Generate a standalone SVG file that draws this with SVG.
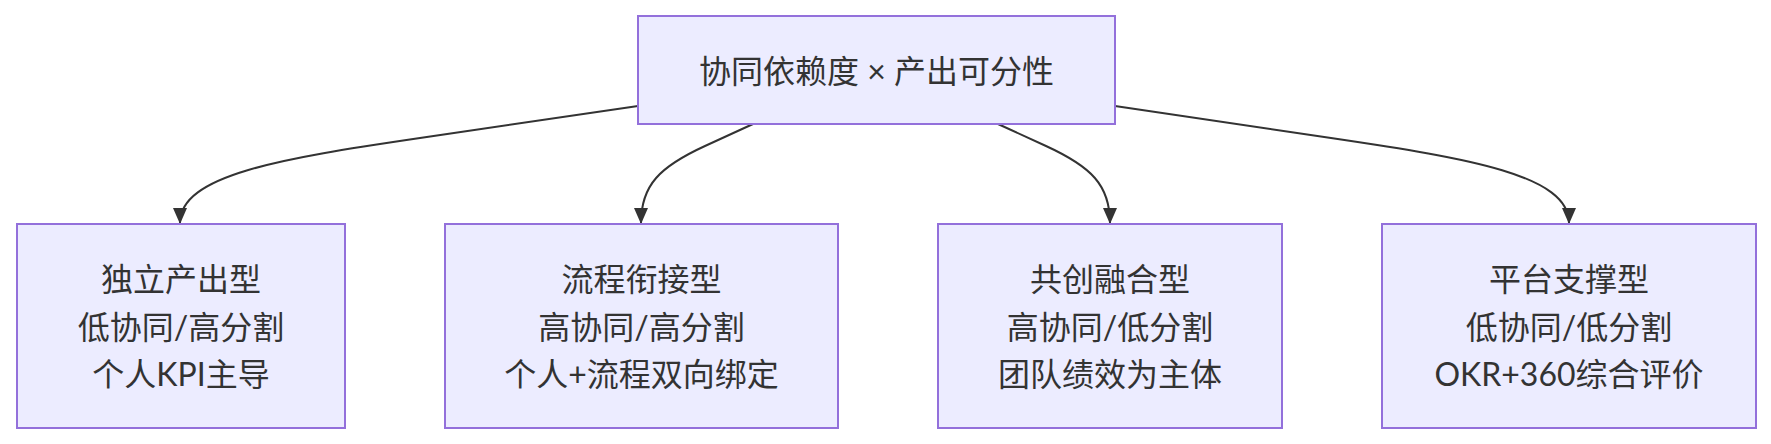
<svg xmlns="http://www.w3.org/2000/svg" width="1771" height="444" viewBox="0 0 1771 444">
<style>
.node rect{fill:#ECECFF;stroke:#9370DB;stroke-width:2}
.node text{font-family:"Lato","Noto Sans CJK SC",sans-serif;font-size:32px;fill:#333;text-anchor:middle;dominant-baseline:central}
.edge{fill:none;stroke:#333;stroke-width:2;marker-end:url(#arrow)}
</style>
<defs>
<marker id="arrow" markerUnits="userSpaceOnUse" viewBox="0 0 16 14" refX="15" refY="7" markerWidth="16" markerHeight="14" orient="auto">
<path d="M0,0 L16,7 L0,14 z" fill="#333"/>
</marker>
</defs>
<rect width="1771" height="444" fill="#fff"/>
<g id="connectors">
<path class="edge" d="M638,106 L420,138 C280,158.6 180,175 180,223"/>
<path class="edge" d="M753,124 L705,146 C660,166.6 641,185 641,223"/>
<path class="edge" d="M998,124 L1046,146 C1091,166.6 1110,185 1110,223"/>
<path class="edge" d="M1115,106 L1331,138 C1470,158.6 1569,175 1569,223"/>
</g>
<g id="root" class="node">
<rect x="638" y="16" width="477" height="108"/>
<text x="876.5" y="70">协同依赖度 × 产出可分性</text>
</g>
<g id="n1" class="node">
<rect x="17" y="224" width="328" height="204"/>
<text x="181" y="278">独立产出型</text>
<text x="181" y="326">低协同/高分割</text>
<text x="181" y="373">个人KPI主导</text>
</g>
<g id="n2" class="node">
<rect x="445" y="224" width="393" height="204"/>
<text x="641.5" y="278">流程衔接型</text>
<text x="641.5" y="326">高协同/高分割</text>
<text x="641.5" y="373">个人+流程双向绑定</text>
</g>
<g id="n3" class="node">
<rect x="938" y="224" width="344" height="204"/>
<text x="1110" y="278">共创融合型</text>
<text x="1110" y="326">高协同/低分割</text>
<text x="1110" y="373">团队绩效为主体</text>
</g>
<g id="n4" class="node">
<rect x="1382" y="224" width="374" height="204"/>
<text x="1569" y="278">平台支撑型</text>
<text x="1569" y="326">低协同/低分割</text>
<text x="1569" y="373">OKR+360综合评价</text>
</g>
</svg>
